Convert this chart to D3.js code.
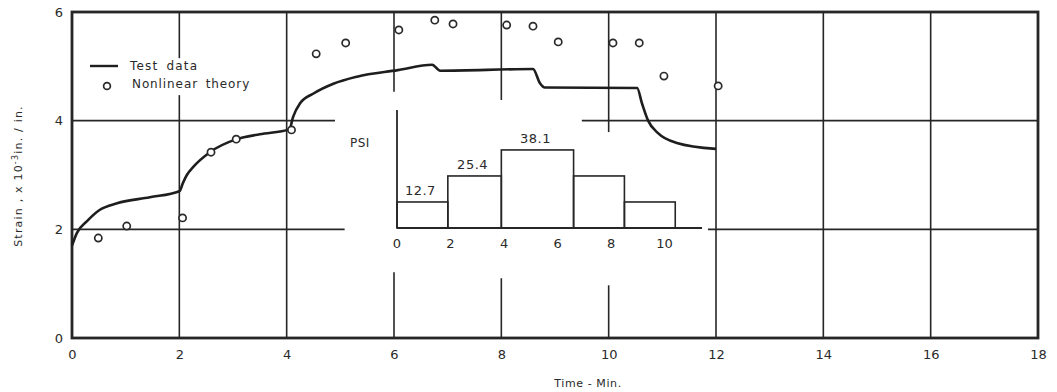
<!DOCTYPE html>
<html>
<head>
<meta charset="utf-8">
<script src="https://cdn.jsdelivr.net/npm/d3@7"></script>
<style>
  html, body { margin: 0; padding: 0; background: #fff; }
  svg { display: block; }
  text { font-family: "DejaVu Sans", sans-serif; fill: #2a2a2a; }
</style>
</head>
<body>
<svg id="chart" width="1057" height="392"></svg>
<script>
// Measured strain under a stepped loading history (time in minutes, strain x 10^-3 in./in.)
const testTime   = [0, 0.09, 0.28, 0.52, 0.84, 1.45, 2.0, 2.07, 2.14, 2.26, 2.57, 3.07, 3.5, 4.05, 4.12, 4.25, 4.5, 4.87, 5.31, 6.07, 6.71, 6.86, 8.59, 8.72, 8.81, 10.53, 10.62, 10.73, 10.92, 11.27, 12.0];
const testStrain = [1.70, 1.93, 2.15, 2.36, 2.48, 2.59, 2.70, 2.86, 3.00, 3.15, 3.42, 3.66, 3.75, 3.84, 4.07, 4.32, 4.50, 4.68, 4.81, 4.93, 5.03, 4.92, 4.95, 4.69, 4.61, 4.60, 4.32, 4.01, 3.77, 3.59, 3.48];

// Nonlinear theory predictions
const theoryTime   = [0.49, 1.02, 2.06, 2.59, 3.06, 4.09, 4.55, 5.10, 6.09, 6.76, 7.10, 8.10, 8.59, 9.06, 10.08, 10.57, 11.03, 12.04];
const theoryStrain = [1.84, 2.06, 2.21, 3.42, 3.66, 3.83, 5.23, 5.43, 5.67, 5.85, 5.78, 5.76, 5.74, 5.45, 5.43, 5.43, 4.82, 4.64];

// Applied pressure steps (psi) shown in the inset
const loadEdges  = [0, 1.9, 3.9, 6.6, 8.5, 10.4];
const loadValues = [12.7, 25.4, 38.1, 25.4, 12.7];
const loadLabels = ["12.7", "25.4", "38.1", null, null];
const insetTicks = [0, 2, 4, 6, 8, 10];

// Main axis ticks
const xTicks = [0, 2, 4, 6, 8, 10, 12, 14, 16, 18];
const yTicks = [0, 2, 4, 6];

const svg = d3.select("#chart");
const ink = "#262626";

const x = d3.scaleLinear().domain([0, 18]).range([72, 1038]);
const y = d3.scaleLinear().domain([0, 6]).range([338, 12]);

// Grid segments (gaps leave room for the legend and the inset)
const hGrid = [
  { v: 2, spans: [[0, 5.08], [11.85, 18]] },
  { v: 4, spans: [[0, 4.9], [9.5, 18]] }
];
const vGrid = [
  { v: 2,  spans: [[0, 4.47], [5.15, 6]] },
  { v: 4,  spans: [[0, 6]] },
  { v: 6,  spans: [[0, 1.21], [4.53, 6]] },
  { v: 8,  spans: [[0, 1.10], [4.38, 6]] },
  { v: 10, spans: [[0, 0.97], [3.79, 6]] },
  { v: 12, spans: [[0, 6]] },
  { v: 14, spans: [[0, 6]] },
  { v: 16, spans: [[0, 6]] }
];

const grid = svg.append("g").attr("stroke", ink).attr("stroke-width", 1.6).attr("fill", "none");
hGrid.forEach(g => g.spans.forEach(s => {
  grid.append("line").attr("x1", x(s[0])).attr("x2", x(s[1])).attr("y1", y(g.v)).attr("y2", y(g.v));
}));
vGrid.forEach(g => g.spans.forEach(s => {
  grid.append("line").attr("x1", x(g.v)).attr("x2", x(g.v)).attr("y1", y(s[0])).attr("y2", y(s[1]));
}));

// Frame
svg.append("rect")
  .attr("x", x(0)).attr("y", y(6))
  .attr("width", x(18) - x(0)).attr("height", y(0) - y(6))
  .attr("fill", "none").attr("stroke", ink).attr("stroke-width", 2.8);

// Axes (labels only; the frame draws the axis lines)
const xAxis = svg.append("g")
  .attr("transform", `translate(0,${y(0)})`)
  .call(d3.axisBottom(x).tickValues(xTicks).tickSize(0).tickPadding(12).tickFormat(d3.format("d")));
xAxis.select(".domain").remove();
xAxis.selectAll("text").style("font-size", "13px").attr("fill", "#2a2a2a");

const yAxis = svg.append("g")
  .attr("transform", `translate(${x(0)},0)`)
  .call(d3.axisLeft(y).tickValues(yTicks).tickSize(0).tickPadding(9).tickFormat(d3.format("d")));
yAxis.select(".domain").remove();
yAxis.selectAll("text").style("font-size", "13px").attr("fill", "#2a2a2a");

// Axis titles
svg.append("text")
  .attr("x", 588).attr("y", 387)
  .attr("text-anchor", "middle")
  .style("font-size", "11px").style("letter-spacing", "0.6px")
  .text("Time - Min.");

const yTitle = svg.append("text")
  .attr("transform", "translate(22,176) rotate(-90)")
  .attr("text-anchor", "middle")
  .style("font-size", "11px").style("letter-spacing", "1.2px");
yTitle.append("tspan").text("Strain ,  x 10");
yTitle.append("tspan").attr("dy", -4).style("font-size", "8px").text("-3");
yTitle.append("tspan").attr("dy", 4).text("in. / in.");

// Inset: loading history
const ix = d3.scaleLinear().domain([0, 11.4]).range([397, 702]);
const iy = d3.scaleLinear().domain([0, 57.6]).range([228, 110]);

const inset = svg.append("g");
const bars = loadValues.map((v, i) => ({ x0: loadEdges[i], x1: loadEdges[i + 1], v, label: loadLabels[i] }));

inset.selectAll("rect.load")
  .data(bars)
  .join("rect")
  .attr("class", "load")
  .attr("x", d => ix(d.x0))
  .attr("y", d => iy(d.v))
  .attr("width", d => ix(d.x1) - ix(d.x0))
  .attr("height", d => iy(0) - iy(d.v))
  .attr("fill", "none").attr("stroke", ink).attr("stroke-width", 1.6);

inset.append("line")
  .attr("x1", ix(0)).attr("x2", ix(11.4)).attr("y1", iy(0)).attr("y2", iy(0))
  .attr("stroke", ink).attr("stroke-width", 1.8);
inset.append("line")
  .attr("x1", ix(0)).attr("x2", ix(0)).attr("y1", iy(0)).attr("y2", iy(57.6))
  .attr("stroke", ink).attr("stroke-width", 1.8);

inset.selectAll("text.val")
  .data(bars.filter(d => d.label))
  .join("text")
  .attr("class", "val")
  .attr("x", d => (ix(d.x0) + ix(d.x1)) / 2 - 2)
  .attr("y", d => iy(d.v) - 7)
  .attr("text-anchor", "middle")
  .style("font-size", "13px").style("letter-spacing", "0.5px")
  .text(d => d.label);

inset.selectAll("text.itick")
  .data(insetTicks)
  .join("text")
  .attr("class", "itick")
  .attr("x", d => ix(d))
  .attr("y", iy(0) + 20)
  .attr("text-anchor", "middle")
  .style("font-size", "13px")
  .text(d => d);

inset.append("text")
  .attr("x", 350).attr("y", 147)
  .style("font-size", "12px").style("letter-spacing", "0.5px")
  .text("PSI");

// Test data curve
const line = d3.line()
  .x((d, i) => x(testTime[i]))
  .y(d => y(d))
  .curve(d3.curveMonotoneX);

svg.append("path")
  .datum(testStrain)
  .attr("d", line)
  .attr("fill", "none").attr("stroke", "#1e1e1e").attr("stroke-width", 2.6)
  .attr("stroke-linejoin", "round");

// Nonlinear theory points
svg.append("g")
  .selectAll("circle")
  .data(theoryStrain)
  .join("circle")
  .attr("cx", (d, i) => x(theoryTime[i]))
  .attr("cy", d => y(d))
  .attr("r", 3.6)
  .attr("fill", "#fff").attr("stroke", "#2a2a2a").attr("stroke-width", 1.7);

// Legend
const legend = svg.append("g");
legend.append("line")
  .attr("x1", 90).attr("x2", 118).attr("y1", 66).attr("y2", 66)
  .attr("stroke", "#1e1e1e").attr("stroke-width", 2.4);
legend.append("circle")
  .attr("cx", 107).attr("cy", 86).attr("r", 3.4)
  .attr("fill", "#fff").attr("stroke", "#2a2a2a").attr("stroke-width", 1.7);
legend.append("text")
  .attr("x", 130).attr("y", 70)
  .style("font-size", "12px").style("letter-spacing", "1.2px").style("word-spacing", "3px")
  .text("Test data");
legend.append("text")
  .attr("x", 132).attr("y", 88)
  .style("font-size", "12px").style("letter-spacing", "0.9px").style("word-spacing", "3px")
  .text("Nonlinear theory");
</script>
</body>
</html>
